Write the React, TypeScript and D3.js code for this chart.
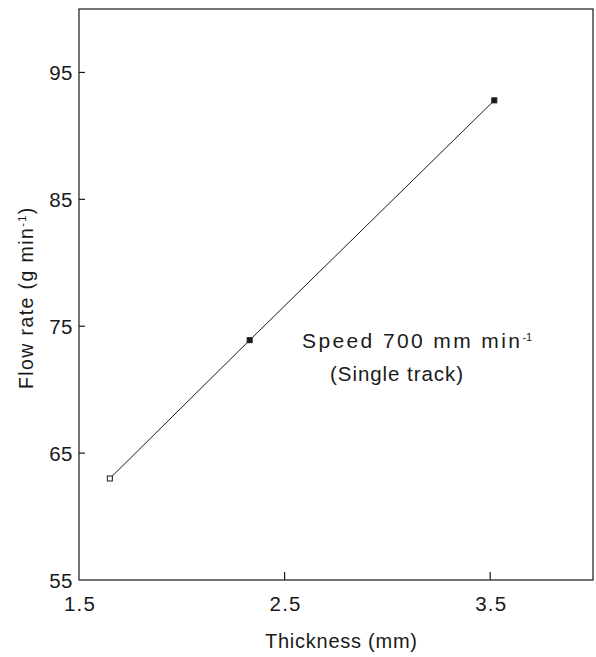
import * as d3 from 'd3';

// data
const thickness = [1.65, 2.33, 3.52];
const flowRate = [63, 73.9, 92.8];
const xTicks = [1.5, 2.5, 3.5];
const yTicks = [55, 65, 75, 85, 95];

const W = 596;
const H = 657;
const margin = { top: 9, right: 3, bottom: 77, left: 79 };
const font = 'Arial, "Liberation Sans", Helvetica, sans-serif';
const ink = '#1a1a1a';

const App = () => {
  const x = d3.scaleLinear().domain([1.5, 4.0]).range([margin.left, W - margin.right]);
  const y = d3.scaleLinear().domain([55, 100]).range([H - margin.bottom, margin.top]);

  const pts = thickness.map((t, i) => [x(t), y(flowRate[i])] as [number, number]);
  const line = d3.line()(pts) || '';

  const x0 = x.range()[0];
  const x1 = x.range()[1];
  const y0 = y.range()[0];
  const y1 = y.range()[1];

  return (
    <svg
      width={W}
      height={H}
      style={{ position: 'absolute', left: 0, top: 0, background: 'white' }}
      fontFamily={font}
    >
      {/* frame */}
      <rect x={x0} y={y1} width={x1 - x0} height={y0 - y1} fill="none" stroke={ink} strokeWidth={1.2} />

      {/* y axis */}
      {yTicks.map(v => (
        <g key={v}>
          {v !== 55 && <line x1={x0} x2={x0 + 6} y1={y(v)} y2={y(v)} stroke={ink} strokeWidth={1.2} />}
          <text x={x0 - 6} y={y(v) + 7.5} textAnchor="end" fontSize={20.5} letterSpacing={0.5} fill={ink}>
            {v}
          </text>
        </g>
      ))}

      {/* x axis */}
      {xTicks.map(v => (
        <g key={v}>
          {v !== 1.5 && <line x1={x(v)} x2={x(v)} y1={y0} y2={y0 - 8} stroke={ink} strokeWidth={1.2} />}
          <text x={x(v) + 1} y={y0 + 31} textAnchor="middle" fontSize={20.5} letterSpacing={1.2} fill={ink}>
            {v.toFixed(1)}
          </text>
        </g>
      ))}

      <text x={265} y={648} fontSize={20} textLength={152} lengthAdjust="spacing" fill={ink}>
        Thickness (mm)
      </text>

      <text
        transform={`translate(33,${389}) rotate(-90)`}
        fontSize={19.5}
        letterSpacing={1.4}
        fill={ink}
      >
        Flow rate (g min<tspan dy={-7} fontSize={11}>-1</tspan><tspan dy={7}>)</tspan>
      </text>

      {/* data */}
      <path d={line} fill="none" stroke={ink} strokeWidth={1} />
      {pts.map(([px, py], i) => (
        <rect
          key={i}
          x={px - 2.5}
          y={py - 2.5}
          width={5}
          height={5}
          fill={i === 0 ? 'white' : ink}
          stroke={ink}
          strokeWidth={1}
        />
      ))}

      {/* annotation */}
      <text x={302} y={348} fontSize={21} fill={ink}>
        <tspan textLength={218} lengthAdjust="spacing">Speed 700 mm min</tspan>
        <tspan dy={-7} fontSize={11}>-1</tspan>
      </text>
      <text x={330} y={381} fontSize={20.5} textLength={133} lengthAdjust="spacing" fill={ink}>
        (Single track)
      </text>
    </svg>
  );
};

export default App;
